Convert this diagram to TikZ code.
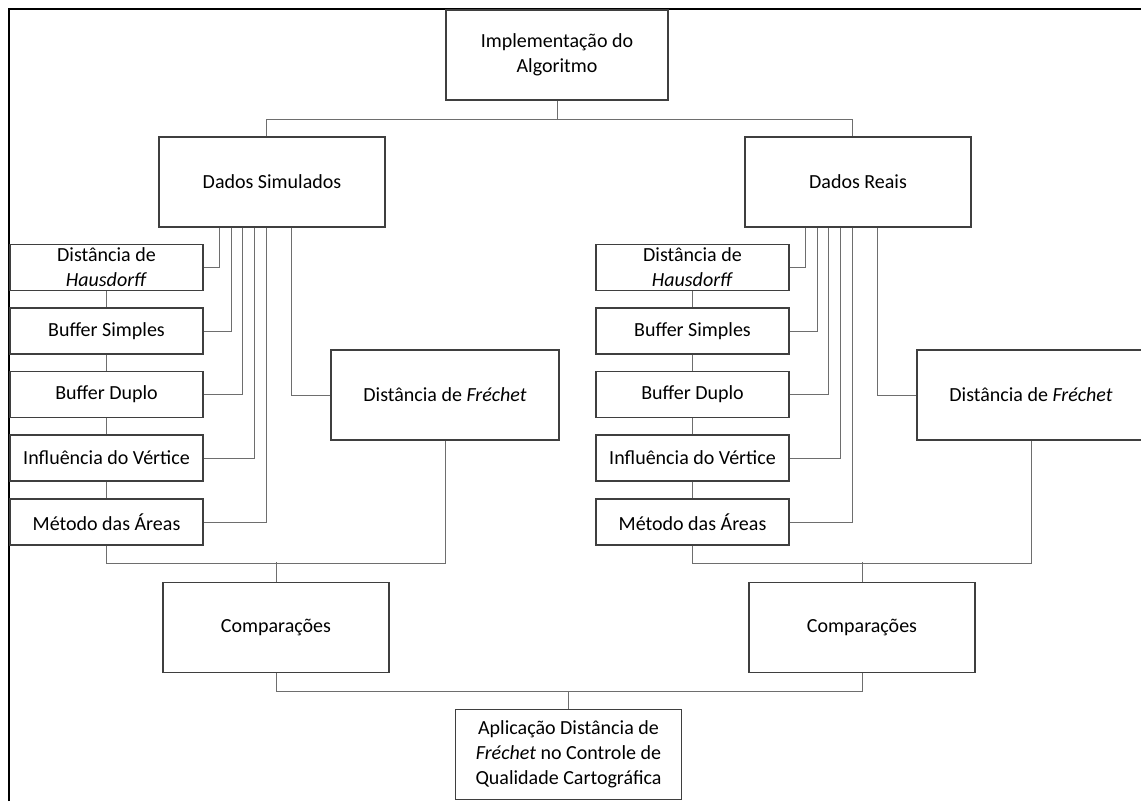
\documentclass[tikz,border=0pt]{standalone}
\usepackage{fontspec}
\setmainfont{Carlito}
\usepackage{tikz}
\usetikzlibrary{calc}
\definecolor{edge}{HTML}{3F3F3F}
\definecolor{wire}{HTML}{6E6E6E}
\tikzset{
  box/.style={draw=edge,line width=0.8pt,inner sep=0pt,align=center,font=\fontsize{15}{18.75}\selectfont,fill=white},
  bigbox/.style={box,minimum width=169.5pt,minimum height=67.5pt},
  colbox/.style={box,minimum width=144.75pt,minimum height=34.5pt},
  link/.style={draw=wire,line width=0.75pt},
  frame/.style={draw=black,line width=1.5pt},
}
\begin{document}
\begin{tikzpicture}[x=0.75pt,y=-0.75pt]
\useasboundingbox (0,0) rectangle (1141,801);
\draw[frame] (9,801) -- (9,9) -- (1141,9);
\node[box,minimum width=166.5pt,minimum height=67.5pt] (impl) at (557,55) {Implementação do\\Algoritmo};
\node[bigbox] (simS) at (272,182) {Dados Simulados};
\node[bigbox] (simR) at (858,182) {Dados Reais};
\foreach \s/\dx in {S/0,R/586}{
 \node[colbox] (c\s1) at (106.5+\dx,267.5) {Distância de\\\textit{Hausdorff}};
 \node[colbox] (c\s2) at (106.5+\dx,331) {Buffer Simples};
 \node[colbox] (c\s3) at (106.5+\dx,394.5) {Buffer Duplo};
 \node[colbox] (c\s4) at (106.5+\dx,458) {Influência do Vértice};
 \node[colbox] (c\s5) at (106.5+\dx,522) {Método das Áreas};
 \node[box,minimum width=171pt,minimum height=67.5pt] (fre\s) at (445+\dx,395) {Distância de \textit{Fréchet}};
 \node[box,minimum width=169.5pt,minimum height=67pt] (comp\s) at (276+\dx,627.5) {Comparações};
 \foreach \i/\j in {1/2,2/3,3/4,4/5} \draw[link] (c\s\i.south) -- (c\s\j.north);
 \foreach \i/\o in {1/61,2/73,3/84,4/96,5/108} \draw[link] ($(sim\s.south west)+(\o,0)$) |- (c\s\i.east);
 \draw[link] ($(sim\s.south west)+(133,0)$) |- (fre\s.west);
 \draw[link] (c\s5.south) -- ++(0,18) -| (fre\s.south);
 \draw[link] (comp\s.north) -- ++(0,-20);
}
\node[box,minimum width=170pt,minimum height=68pt] (fim) at (568.5,754.5) {Aplicação Distância de\\\textit{Fréchet} no Controle de\\Qualidade Cartográfica};
\draw[link] (impl.south) -- ++(0,19) coordinate (topo);
\draw[link] ($(simS.north)+(-6,0)$) |- (topo) -| ($(simR.north)+(-6,0)$);
\draw[link] (compS.south) -- ++(0,19) -| (compR.south);
\draw[link] (fim.north) -- ++(0,-18);
\end{tikzpicture}
\end{document}
